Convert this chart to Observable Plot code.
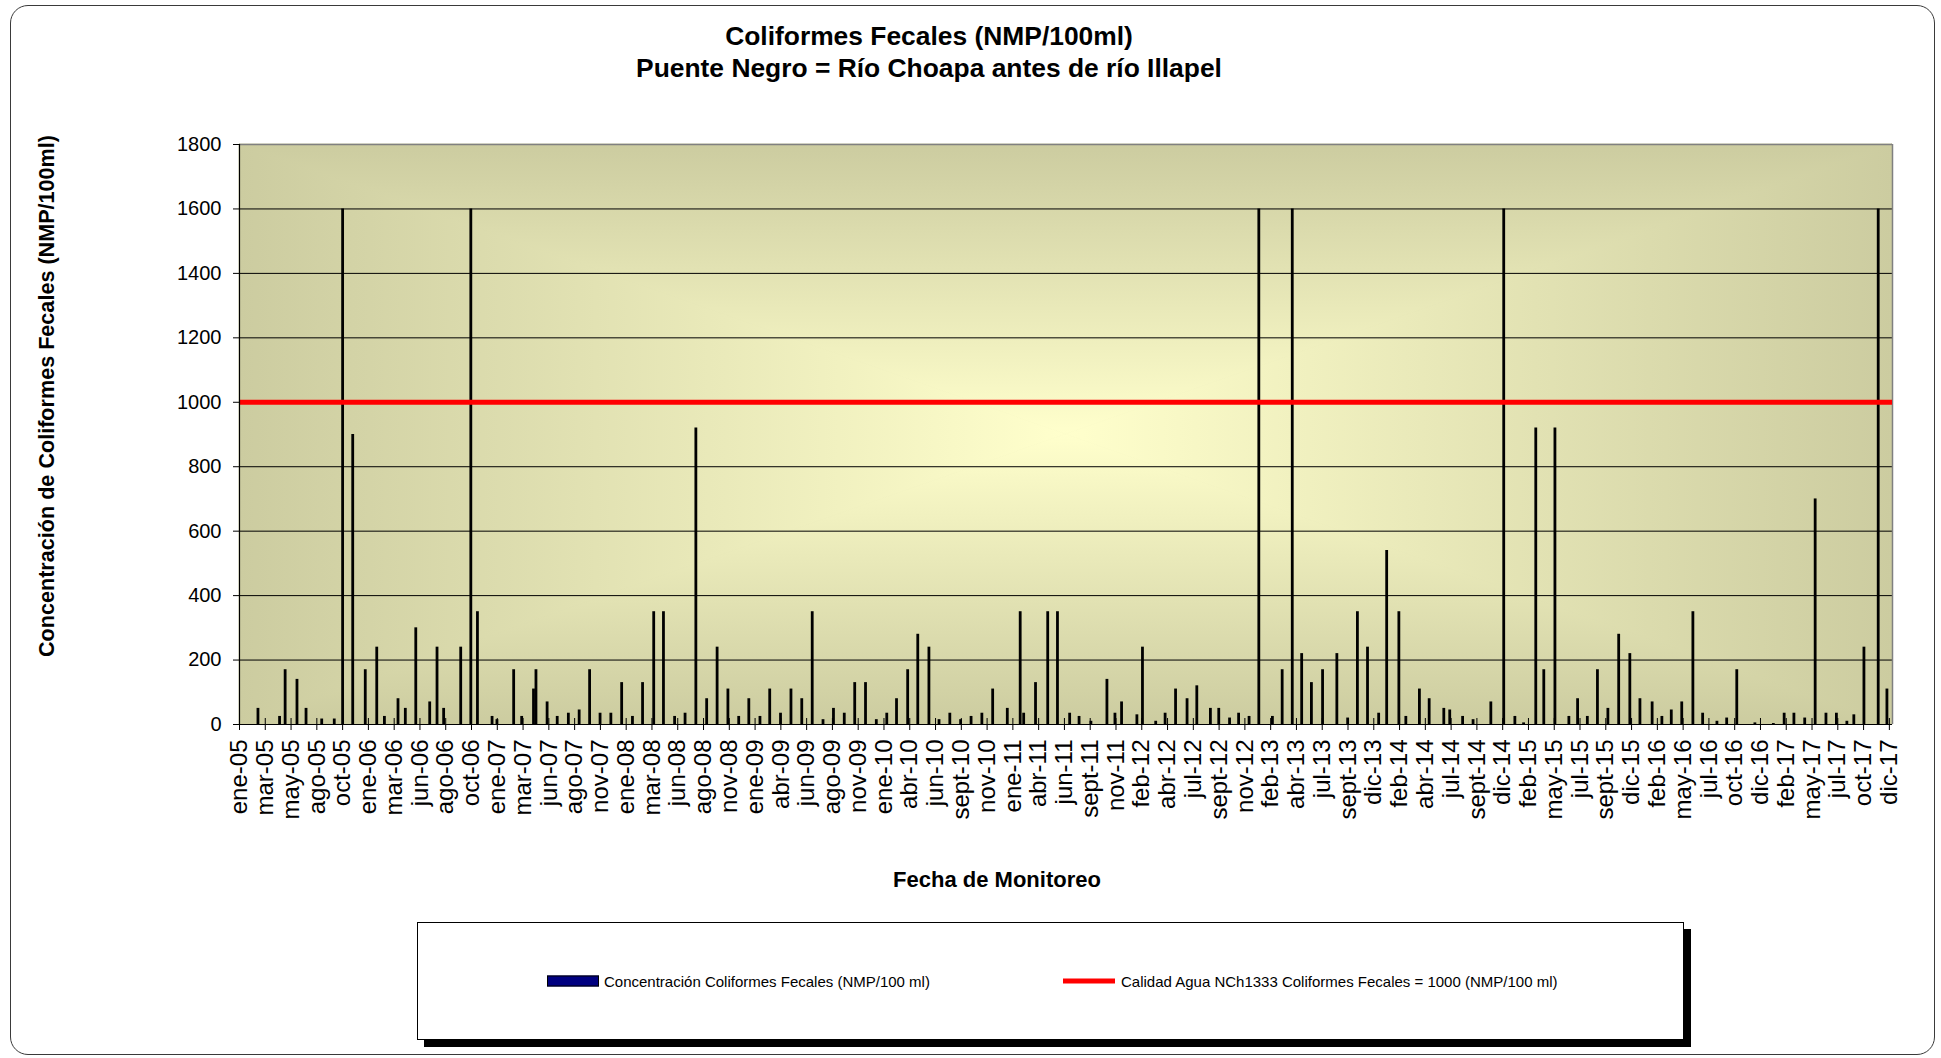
<!DOCTYPE html>
<html>
<head>
<meta charset="utf-8">
<script src="https://cdn.jsdelivr.net/npm/d3@7"></script>
<script src="https://cdn.jsdelivr.net/npm/@observablehq/plot@0.6"></script>
<style>
  body { margin: 0; background: #fff; font-family: "Liberation Sans", Arial, sans-serif; color: #000; }
  #wrap { position: relative; width: 1941px; height: 1058px; overflow: hidden; }
  #border { position: absolute; left: 10px; top: 5px; width: 1925px; height: 1050px; border: 1px solid #3a3a3a; border-radius: 18px; box-sizing: border-box; }
  #title { position: absolute; left: 0; width: 1858px; top: 20px; text-align: center; font-weight: bold; font-size: 26.4px; line-height: 32px; }
  #chart { position: absolute; left: 0; top: 100px; }
  #chart svg { overflow: visible; }
  #ytitle { position: absolute; left: 47px; top: 396px; transform: translate(-50%, -50%) rotate(-90deg); white-space: nowrap; font-weight: bold; font-size: 21.6px; }
  #xtitle { position: absolute; left: 997px; top: 880px; transform: translate(-50%, -50%); white-space: nowrap; font-weight: bold; font-size: 22px; }
  #legend { position: absolute; left: 417px; top: 922px; width: 1267px; height: 118px; border: 1px solid #000; box-sizing: border-box; background: #fff; box-shadow: 7px 7px 0 #000; font-size: 15px; }
  .item { position: absolute; top: 50%; transform: translateY(-50%); display: flex; align-items: center; white-space: nowrap; }
  .sw1 { width: 50px; height: 9px; background: #000080; border: 1px solid #000; margin-right: 5px; }
  .sw2 { width: 52px; height: 5px; background: #ff0000; margin-right: 6px; }
</style>
</head>
<body>
<div id="wrap">
  <div id="border"></div>
  <div id="title">Coliformes Fecales (NMP/100ml)<br>Puente Negro = Río Choapa antes de río Illapel</div>
  <div id="chart"></div>
  <div id="ytitle">Concentración de Coliformes Fecales (NMP/100ml)</div>
  <div id="xtitle">Fecha de Monitoreo</div>
  <div id="legend">
    <div class="item" style="left:129px"><div class="sw1"></div><span>Concentración Coliformes Fecales (NMP/100 ml)</span></div>
    <div class="item" style="left:645px"><div class="sw2"></div><span>Calidad Agua NCh1333 Coliformes Fecales = 1000 (NMP/100 ml)</span></div>
  </div>
</div>
<script>
// ---- data ----
const sampleDates = [
  "2005-02-23","2005-04-26","2005-05-12","2005-06-15","2005-07-11","2005-08-25","2005-09-30","2005-10-24","2005-11-22","2005-12-28",
  "2006-01-30","2006-02-21","2006-04-01","2006-04-22","2006-05-22","2006-07-01","2006-07-22","2006-08-10","2006-09-28","2006-10-27","2006-11-15","2006-12-27",
  "2007-01-10","2007-02-27","2007-03-22","2007-04-25","2007-05-02","2007-06-03","2007-07-02","2007-08-03","2007-09-03","2007-10-03","2007-11-02","2007-12-03",
  "2008-01-03","2008-02-03","2008-03-03","2008-04-04","2008-05-02","2008-06-03","2008-07-03","2008-08-03","2008-09-03","2008-10-03","2008-11-03","2008-12-04",
  "2009-01-02","2009-02-03","2009-03-03","2009-04-03","2009-05-03","2009-06-03","2009-07-03","2009-08-03","2009-09-02","2009-10-03","2009-11-02","2009-12-03",
  "2010-01-03","2010-02-02","2010-03-02","2010-04-03","2010-05-02","2010-06-03","2010-07-02","2010-08-02","2010-09-02","2010-10-02","2010-11-02","2010-12-03",
  "2011-01-14","2011-02-20","2011-03-02","2011-04-05","2011-05-10","2011-06-07","2011-07-12","2011-08-08","2011-09-11","2011-10-27","2011-11-19","2011-12-08",
  "2012-01-21","2012-02-06","2012-03-15","2012-04-11","2012-05-11","2012-06-13","2012-07-11","2012-08-19","2012-09-12","2012-10-13","2012-11-08","2012-12-08",
  "2013-01-05","2013-02-13","2013-03-13","2013-04-11","2013-05-08","2013-06-05","2013-07-07","2013-08-17","2013-09-17","2013-10-15","2013-11-13","2013-12-15",
  "2014-01-07","2014-02-11","2014-03-03","2014-04-11","2014-05-09","2014-06-20","2014-07-07","2014-08-13","2014-09-12","2014-11-02","2014-12-09",
  "2015-01-10","2015-02-04","2015-03-11","2015-04-03","2015-05-05","2015-06-14","2015-07-09","2015-08-06","2015-09-04","2015-10-04","2015-11-04","2015-12-06",
  "2016-01-04","2016-02-08","2016-03-07","2016-04-03","2016-05-03","2016-06-04","2016-07-02","2016-08-12","2016-09-09","2016-10-08","2016-11-29",
  "2017-01-21","2017-02-21","2017-03-21","2017-04-21","2017-05-21","2017-06-21","2017-07-21","2017-08-20","2017-09-09","2017-10-08","2017-11-18","2017-12-13"
];
const coliformes = [
  50,25,170,140,50,17,17,1600,900,170,
  240,25,80,50,300,70,240,50,240,1600,350,25,
  15,170,25,110,170,70,25,35,45,170,35,35,
  130,25,130,350,350,25,35,920,80,240,110,25,
  80,25,110,35,110,80,350,15,50,35,130,130,
  15,35,80,170,280,240,15,35,15,25,35,110,
  50,350,35,130,350,350,35,25,10,140,35,70,
  30,240,10,35,110,80,120,50,50,20,35,25,
  1600,25,170,1600,220,130,170,220,20,350,240,35,
  540,350,25,110,80,50,45,25,15,70,1600,
  25,5,920,170,920,25,80,25,170,50,280,220,
  80,70,25,45,70,350,35,10,20,170,5,
  3,35,35,20,700,35,35,10,30,240,1600,110
];
const tickLabels = [
  "ene-05","mar-05","may-05","ago-05","oct-05",
  "ene-06","mar-06","jun-06","ago-06","oct-06",
  "ene-07","mar-07","jun-07","ago-07","nov-07",
  "ene-08","mar-08","jun-08","ago-08","nov-08",
  "ene-09","abr-09","jun-09","ago-09","nov-09",
  "ene-10","abr-10","jun-10","sept-10","nov-10",
  "ene-11","abr-11","jun-11","sept-11","nov-11",
  "feb-12","abr-12","jul-12","sept-12","nov-12",
  "feb-13","abr-13","jul-13","sept-13","dic-13",
  "feb-14","abr-14","jul-14","sept-14","dic-14",
  "feb-15","may-15","jul-15","sept-15","dic-15",
  "feb-16","may-16","jul-16","oct-16","dic-16",
  "feb-17","may-17","jul-17","oct-17","dic-17"
];
const yTicks = [0, 200, 400, 600, 800, 1000, 1200, 1400, 1600, 1800];
const limiteNCh1333 = 1000;
const xStart = "2005-01-01";
const xEnd = "2017-12-29";
const majorUnitDays = 74; // date-axis major unit of the original chart

// ---- build ----
const xDomain = [new Date(xStart + "T00:00:00Z"), new Date(xEnd + "T00:00:00Z")];
const tickDates = tickLabels.map((_, i) => new Date(Date.UTC(2005, 0, 1 + majorUnitDays * i)));
const labelByTime = new Map(tickDates.map((d, i) => [+d, tickLabels[i]]));
const data = sampleDates.map((d, i) => ({date: new Date(d + "T00:00:00Z"), value: coliformes[i]}));

const plot = Plot.plot({
  width: 1941,
  height: 800,
  marginTop: 44,
  marginBottom: 176,
  marginLeft: 239,
  marginRight: 49,
  style: {fontFamily: '"Liberation Sans", Arial, sans-serif', background: "transparent", color: "#000", overflow: "visible"},
  x: {type: "utc", domain: xDomain},
  y: {domain: [0, 1800]},
  marks: [
    Plot.frame({fill: "#CCCCA0", stroke: "none"}),
    Plot.ruleY(yTicks.filter(v => v > 0 && v < 1800), {stroke: "#000", strokeWidth: 1}),
    Plot.ruleY([1800], {stroke: "#808080", strokeWidth: 1.5}),
    Plot.ruleX([xDomain[1]], {stroke: "#808080", strokeWidth: 1.5}),
    Plot.ruleX(data, {x: "date", y: "value", stroke: "#000", strokeWidth: 2.8}),
    Plot.ruleY([limiteNCh1333], {stroke: "#FF0000", strokeWidth: 5}),
    Plot.ruleX([xDomain[0]], {stroke: "#000", strokeWidth: 1.2}),
    Plot.ruleY([0], {stroke: "#000", strokeWidth: 1.2}),
    Plot.ruleX(tickDates, {x: d => d, y1: 0, y2: 0, insetTop: -6, insetBottom: -6, stroke: "#000"}),
    Plot.axisY({ticks: yTicks, tickSize: 6, tickPadding: 12, fontSize: 20, label: null, tickFormat: d => String(d)}),
    Plot.axisX({ticks: tickDates, tickFormat: d => labelByTime.get(+d), tickRotate: -90, tickSize: 0, tickPadding: 15, fontSize: 24, label: null})
  ]
});
document.getElementById("chart").appendChild(plot);

// ---- rectangular "from centre" gradient fill of the plot area ----
(function () {
  const svg = d3.select(plot);
  let node = svg.select('[aria-label="frame"]').node();
  if (node && node.tagName.toLowerCase() !== "rect") node = d3.select(node).select("rect").node();
  if (!node) return;
  const x = +node.getAttribute("x"), y = +node.getAttribute("y");
  const w = +node.getAttribute("width"), h = +node.getAttribute("height");
  const cx = x + w / 2, cy = y + h / 2;
  const dark = "#CCCCA0", light = "#FFFFCC";
  const defs = svg.insert("defs", ":first-child");
  const grads = {
    gT: [0, 0, 0, 1], gB: [0, 1, 0, 0], gL: [0, 0, 1, 0], gR: [1, 0, 0, 0]
  };
  for (const [id, [x1, y1, x2, y2]] of Object.entries(grads)) {
    const g = defs.append("linearGradient").attr("id", id)
      .attr("x1", x1).attr("y1", y1).attr("x2", x2).attr("y2", y2);
    g.append("stop").attr("offset", 0).attr("stop-color", dark);
    g.append("stop").attr("offset", 1).attr("stop-color", light);
  }
  const polys = [
    ["gT", [[x, y], [x + w, y], [cx, cy]]],
    ["gB", [[x, y + h], [x + w, y + h], [cx, cy]]],
    ["gL", [[x, y], [x, y + h], [cx, cy]]],
    ["gR", [[x + w, y], [x + w, y + h], [cx, cy]]]
  ];
  const gbg = d3.create("svg:g").attr("aria-label", "background");
  for (const [id, pts] of polys) {
    gbg.append("polygon").attr("points", pts.map(p => p.join(",")).join(" "))
      .attr("fill", `url(#${id})`).attr("stroke", `url(#${id})`).attr("stroke-width", 0.8);
  }
  node.parentNode.insertBefore(gbg.node(), node.nextSibling);
})();
</script>
</body>
</html>
